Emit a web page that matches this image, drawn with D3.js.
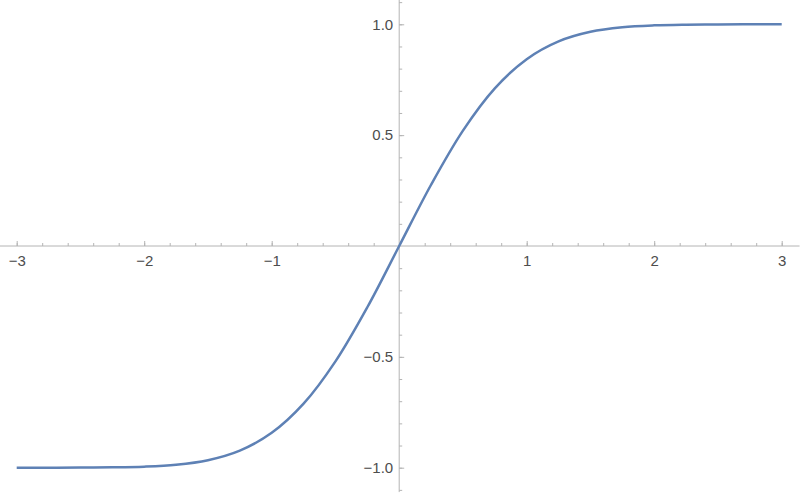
<!DOCTYPE html>
<html>
<head>
<meta charset="utf-8">
<script src="https://cdn.jsdelivr.net/npm/d3@7"></script>
<style>
  body { margin: 0; background: #fff; }
</style>
</head>
<body>
<svg id="chart" width="800" height="496"></svg>
<script>
// values (erf-like sigmoid)
var xs = [-3, -2.75, -2.5, -2.25, -2, -1.75, -1.5, -1.25, -1, -0.75, -0.5, -0.25, 0,
          0.25, 0.5, 0.75, 1, 1.25, 1.5, 1.75, 2, 2.25, 2.5, 2.75, 3];
var ys = [-1.0, -0.9999, -0.9996, -0.9985, -0.9953, -0.9867, -0.9661, -0.9229, -0.8427, -0.7112, -0.5205, -0.2763, 0,
          0.2763, 0.5205, 0.7112, 0.8427, 0.9229, 0.9661, 0.9867, 0.9953, 0.9985, 0.9996, 0.9999, 1.0];
var xTicks = [-3, -2, -1, 1, 2, 3];
var yTicks = [-1, -0.5, 0.5, 1];

var svg = d3.select("#chart");
var axisColor = "#b4b4b4";

var x = d3.scaleLinear().domain([-3, 3]).range([16.7, 781.7]);
var y = d3.scaleLinear().domain([-1, 1]).range([467.7, 24.3]);

var fmtMinus = function(s) { return s.replace("-", "\u2212"); };

// axis lines, running past the ticks
svg.append("line")
  .attr("x1", x(-3.14)).attr("x2", x(3.14))
  .attr("y1", y(0)).attr("y2", y(0))
  .attr("stroke", axisColor).attr("stroke-width", 1);
svg.append("line")
  .attr("x1", x(0)).attr("x2", x(0))
  .attr("y1", y(1.11)).attr("y2", y(-1.11))
  .attr("stroke", axisColor).attr("stroke-width", 1);

// minor ticks
var xMinor = d3.range(-30, 31, 2).map(function(d){ return d / 10; }).filter(function(d){ return d !== 0; });
var yMinor = d3.range(-11, 12, 1).map(function(d){ return d / 10; }).filter(function(d){ return d !== 0; });

var gxm = svg.append("g").attr("transform", "translate(0," + y(0) + ")")
  .call(d3.axisBottom(x).tickValues(xMinor).tickSizeInner(-3).tickSizeOuter(0).tickFormat(""));
var gym = svg.append("g").attr("transform", "translate(" + x(0) + ",0)")
  .call(d3.axisLeft(y).tickValues(yMinor).tickSizeInner(-3).tickSizeOuter(0).tickFormat(""));

// major ticks
var gx = svg.append("g").attr("transform", "translate(0," + y(0) + ")")
  .call(d3.axisBottom(x).tickValues(xTicks).tickSizeInner(-5).tickSizeOuter(0).tickPadding(9)
    .tickFormat(function(d){ return fmtMinus(d3.format("d")(d)); }));
var gy = svg.append("g").attr("transform", "translate(" + x(0) + ",0)")
  .call(d3.axisLeft(y).tickValues(yTicks).tickSizeInner(-5).tickSizeOuter(0).tickPadding(6)
    .tickFormat(function(d){ return fmtMinus(d3.format(".1f")(d)); }));

[gxm, gym, gx, gy].forEach(function(g) {
  g.select(".domain").remove();
  g.attr("font-size", 15).attr("font-family", "'Liberation Sans', Arial, sans-serif");
  g.selectAll("line").attr("stroke", axisColor);
  g.selectAll("text").attr("fill", "#4d4d4d");
});

// curve
var pts = xs.map(function(v, i){ return [v, ys[i]]; });
var line = d3.line()
  .x(function(d){ return x(d[0]); })
  .y(function(d){ return y(d[1]); })
  .curve(d3.curveCatmullRom.alpha(0.5));

svg.append("path")
  .datum(pts)
  .attr("d", line)
  .attr("fill", "none")
  .attr("stroke", "#5e81b5")
  .attr("stroke-width", 2.5)
  .attr("stroke-linejoin", "round");
</script>
</body>
</html>
